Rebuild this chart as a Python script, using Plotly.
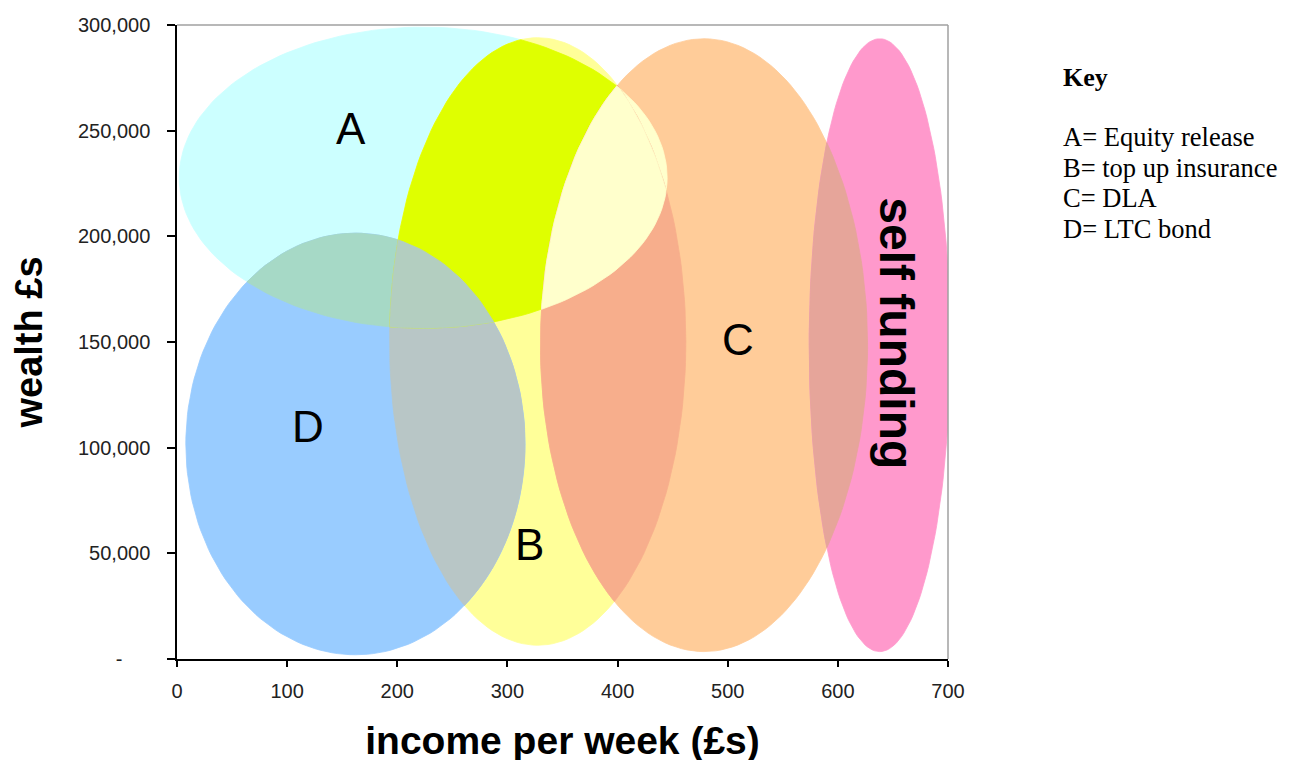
import numpy as np
import plotly.graph_objects as go

# Zonas de producto: rango de ingreso semanal (£) y de riqueza (£)
regions = ["A", "B", "C", "D", "self funding"]
income_lo = [2, 193, 330, 8, 574]
income_hi = [445, 462, 627, 316, 702]
wealth_lo = [156500, 6500, 3500, 2000, 3500]
wealth_hi = [299000, 294000, 293500, 201500, 293500]

# posición de las etiquetas dentro de cada zona
label_x = [158, 320, 509, 119, 653]
label_y = [251000, 54000, 151000, 110000, 154000]

key_title = "Key"
key_lines = ["A= Equity release", "B= top up insurance", "C= DLA", "D= LTC bond"]

x_ticks = [0, 100, 200, 300, 400, 500, 600, 700]
y_ticks = [0, 50000, 100000, 150000, 200000, 250000, 300000]
y_ticktext = ["-\u00a0\u00a0\u00a0\u00a0\u00a0", "50,000", "100,000", "150,000",
              "200,000", "250,000", "300,000"]

# colores de cada zona y de sus solapes
FILL = {
    "A": "#ccffff",
    "B": "#ffff99",
    "C": "#ffcc99",
    "D": "#99ccff",
    "self funding": "#ff99cc",
}
OVERLAPS = [
    (("A", "D"), "#a6d9c6"),
    (("B", "D"), "#b8c6c6"),
    (("A", "B"), "#dfff00"),
    (("A", "C"), "#ffffcc"),
    (("B", "C"), "#f7ae8c"),
    (("C", "self funding"), "#e6a59a"),
    (("A", "B", "D"), "#b3cec0"),
    (("A", "B", "C"), "#ffffcc"),
]

FONT = "Arial, Liberation Sans, sans-serif"
SERIF = "Times New Roman, Liberation Serif, serif"

# caja del área de trazado en píxeles de la página (el body tiene 8px de margen)
OFF = 8
L, R, T, B = 177, 948, 25, 659
W, H = 1295, 760


def ellipse(x0, x1, y0, y1, n=180):
    cx, cy = (x0 + x1) / 2, (y0 + y1) / 2
    rx, ry = (x1 - x0) / 2, (y1 - y0) / 2
    t = np.linspace(0, 2 * np.pi, n, endpoint=False)
    return list(zip(cx + rx * np.cos(t), cy + ry * np.sin(t)))


def clip(subject, clipper):
    # Sutherland-Hodgman (clipper convexo, sentido antihorario)
    out = list(subject)
    for i in range(len(clipper)):
        if not out:
            break
        ax, ay = clipper[i - 1]
        bx, by = clipper[i]

        def side(p):
            return (bx - ax) * (p[1] - ay) - (by - ay) * (p[0] - ax)

        def cut(s, e):
            ds, de = side(s), side(e)
            t = ds / (ds - de)
            return (s[0] + t * (e[0] - s[0]), s[1] + t * (e[1] - s[1]))

        inp, out = out, []
        s = inp[-1]
        for e in inp:
            if side(e) >= 0:
                if side(s) < 0:
                    out.append(cut(s, e))
                out.append(e)
            elif side(s) >= 0:
                out.append(cut(s, e))
            s = e
    return out


def add_poly(fig, pts, color):
    if len(pts) < 3:
        return
    xs = [p[0] for p in pts] + [pts[0][0]]
    ys = [p[1] for p in pts] + [pts[0][1]]
    fig.add_trace(go.Scatter(
        x=xs, y=ys, mode="lines", fill="toself",
        fillcolor=color, line=dict(width=0.8, color=color),
        hoverinfo="skip", showlegend=False,
    ))


polys = {
    name: ellipse(income_lo[i], income_hi[i], wealth_lo[i], wealth_hi[i])
    for i, name in enumerate(regions)
}

fig = go.Figure()

for name in regions:
    add_poly(fig, polys[name], FILL[name])

for names, color in OVERLAPS:
    p = polys[names[0]]
    for other in names[1:]:
        p = clip(p, polys[other])
    add_poly(fig, p, color)

# etiquetas de zona
for i, name in enumerate(regions):
    if name == "self funding":
        fig.add_annotation(x=label_x[i], y=label_y[i], text="<b>self funding</b>",
                           textangle=90, showarrow=False,
                           font=dict(family=FONT, size=48, color="black"))
    else:
        fig.add_annotation(x=label_x[i], y=label_y[i], text=name, showarrow=False,
                           font=dict(family=FONT, size=44, color="black"))


def px_x(px):
    return (px - L) / (R - L)


def px_y(py):
    return (B - py) / (B - T)


# leyenda de texto a la derecha
fig.add_annotation(xref="paper", yref="paper", x=px_x(1061), y=px_y(77),
                   xanchor="left", yanchor="middle", showarrow=False,
                   text=f"<b>{key_title}</b>",
                   font=dict(family=SERIF, size=26, color="black"))
for i, line in enumerate(key_lines):
    fig.add_annotation(xref="paper", yref="paper", x=px_x(1061), y=px_y(137 + 30.5 * i),
                       xanchor="left", yanchor="middle", showarrow=False, text=line,
                       font=dict(family=SERIF, size=26.5, color="black"))

# borde superior y derecho en gris
fig.add_shape(type="line", xref="paper", yref="paper", x0=0, x1=1, y0=1, y1=1,
              line=dict(color="#a0a0a0", width=1.5))
fig.add_shape(type="line", xref="paper", yref="paper", x0=1, x1=1, y0=0, y1=1,
              line=dict(color="#a0a0a0", width=1.5))

fig.update_layout(
    width=W, height=H,
    margin=dict(l=L - OFF, r=W - R + OFF, t=T - OFF, b=H - B + OFF),
    paper_bgcolor="white",
    plot_bgcolor="white",
    font=dict(family=FONT, color="#222"),
    xaxis=dict(
        range=[0, 700], tickvals=x_ticks, ticks="outside", ticklen=6,
        tickwidth=1.5, tickcolor="black", showline=True, linecolor="black",
        linewidth=1.5, showgrid=False, zeroline=False, ticklabelstandoff=7,
        automargin=False,
        tickfont=dict(family=FONT, size=20, color="#222"),
        title=dict(text="<b>income per week (£s)</b>", standoff=26,
                   font=dict(family=FONT, size=39, color="black")),
    ),
    yaxis=dict(
        range=[0, 300000], tickvals=y_ticks, ticktext=y_ticktext,
        ticks="outside", ticklen=8, tickwidth=1.5, tickcolor="black",
        showline=True, linecolor="black", linewidth=1.5,
        showgrid=False, zeroline=False, ticklabelstandoff=13,
        automargin=False,
        tickfont=dict(family=FONT, size=20, color="#222"),
        title=dict(text="<b>wealth £s</b>", standoff=28,
                   font=dict(family=FONT, size=38, color="black")),
    ),
)

fig.write_html("out.html")
